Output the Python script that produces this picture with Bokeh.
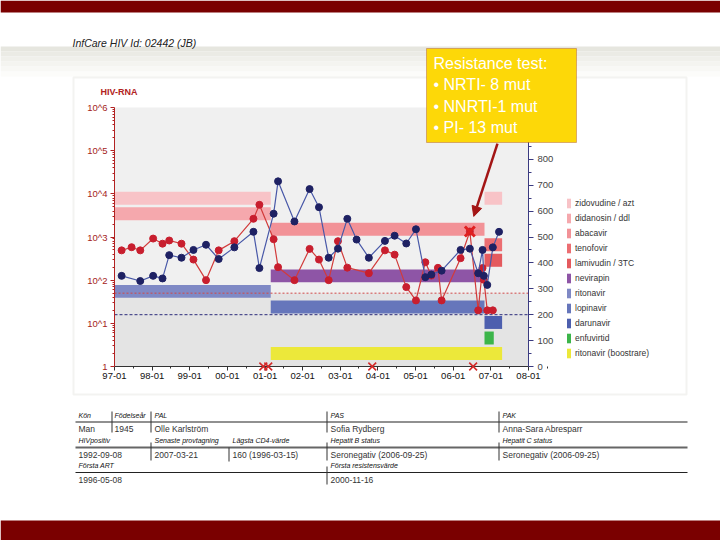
import pandas as pd
from bokeh.plotting import figure
from bokeh.models import (Range1d, LinearAxis, LogAxis, DatetimeAxis, FixedTicker, DatetimeTickFormatter,
                          CustomJSTickFormatter, BoxAnnotation, Label, Arrow, NormalHead, Legend,
                          LegendItem, ColumnDataSource, LinearScale, LogScale)
from bokeh.embed import file_html
from bokeh.resources import INLINE

# ---------------- data ----------------
rna_dates = ["1997-03-11", "1997-06-16", "1997-09-08", "1998-01-11", "1998-04-12", "1998-06-16",
             "1998-10-13", "1999-02-06", "1999-06-08", "1999-10-09", "2000-03-09", "2000-09-10",
             "2000-11-07", "2001-03-25", "2001-05-07", "2001-10-13", "2002-03-09", "2002-06-08",
             "2002-09-10", "2002-12-09", "2003-03-10", "2003-10-05", "2004-03-09", "2004-06-11",
             "2004-10-02", "2005-01-04", "2005-04-05", "2005-06-02", "2005-08-05", "2005-09-10",
             "2006-03-13", "2006-06-11", "2006-08-31", "2006-10-12", "2006-10-25", "2006-11-27",
             "2007-01-20"]
rna_values = [490, 580, 490, 920, 700, 830, 700, 300, 100, 490, 800, 2640, 5570, 890, 200, 100,
              530, 300, 100, 800, 195, 145, 490, 390, 69, 34, 260, 128, 193, 34, 323, 1340, 20,
              191, 102, 20, 20]

cd4_dates = ["1997-03-11", "1997-09-08", "1998-01-11", "1998-04-12", "1998-06-16", "1998-10-13",
             "1999-02-06", "1999-06-08", "1999-10-09", "2000-03-09", "2000-09-10", "2000-11-07",
             "2001-03-25", "2001-05-07", "2001-10-13", "2002-03-09", "2002-06-08", "2002-09-10",
             "2002-12-09", "2003-03-10", "2003-06-08", "2003-10-05", "2004-03-09", "2004-06-11",
             "2004-10-02", "2005-01-04", "2005-04-05", "2005-06-02", "2005-09-10", "2006-03-13",
             "2006-06-11", "2006-08-31", "2006-10-12", "2006-10-25", "2006-11-27", "2007-01-20",
             "2007-03-21"]
cd4_values = [350, 330, 350, 340, 430, 420, 450, 470, 415, 460, 520, 380, 590, 715, 560, 685, 615,
              420, 455, 570, 490, 420, 485, 505, 475, 530, 345, 355, 370, 450, 455, 360, 450, 350,
              315, 460, 520]

drug_names = ["zidovudine / azt", "didanosin / ddl", "abacavir", "tenofovir", "lamivudin / 3TC",
              "nevirapin", "ritonavir", "lopinavir", "darunavir", "enfuvirtid", "ritonavir (boostrare)"]
drug_colors = ["#f8c3c7", "#f5a8ad", "#f29297", "#ec6e72", "#e45a5e", "#8e55a6", "#7f89c5",
               "#6676bb", "#4d5fae", "#3cb54a", "#ece83a"]

therapy_drug = ["zidovudine / azt", "didanosin / ddl", "ritonavir",
                "abacavir", "nevirapin", "lopinavir", "ritonavir (boostrare)",
                "zidovudine / azt", "tenofovir", "lamivudin / 3TC", "darunavir", "enfuvirtid"]
therapy_start = ["1996-05-08", "1996-05-08", "1996-05-08",
                 "2001-02-25", "2001-02-25", "2001-02-25", "2001-02-25",
                 "2006-10-31", "2006-10-31", "2006-10-31", "2006-10-31", "2006-10-31"]
therapy_end = ["2001-02-25", "2001-02-25", "2001-02-25",
               "2006-10-31", "2006-10-31", "2006-10-31", "2007-04-20",
               "2007-04-20", "2007-04-20", "2007-04-20", "2007-04-20", "2007-01-29"]

resist_dates = ["2000-12-15", "2001-02-01", "2003-11-07", "2006-07-13"]
resist_point_date = "2006-06-11"
resist_point_value = 1340

rna_limit = 50
cd4_limit = 200

rna_ticks = [1, 10, 100, 1000, 10000, 100000, 1000000]
rna_tick_labels = ["1", "10^1", "10^2", "10^3", "10^4", "10^5", "10^6"]
cd4_ticks = [0, 100, 200, 300, 400, 500, 600, 700, 800, 900, 1000]
year_ticks = ["1997-01-01", "1998-01-01", "1999-01-01", "2000-01-01", "2001-01-01", "2002-01-01",
              "2003-01-01", "2004-01-01", "2005-01-01", "2006-01-01", "2007-01-01", "2008-01-01"]

callout_lines = ["Resistance test:", "\u2022 NRTI- 8 mut", "\u2022 NNRTI-1 mut", "\u2022 PI- 13 mut"]
arrow_from = ("2007-03-06", 146000)
arrow_to = ("2006-07-19", 3000)

header_text = "InfCare HIV Id: 02442 (JB)"
table_labels = ["Kön", "Födelseår", "PAL", "PAS", "PAK",
                "HIVpositiv", "Senaste provtagning", "Lägsta CD4-värde", "Hepatit B status", "Hepatit C status",
                "Första ART", "Första resistensvärde"]
table_values = ["Man", "1945", "Olle Karlström", "Sofia Rydberg", "Anna-Sara Abresparr",
                "1992-09-08", "2007-03-21", "160 (1996-03-15)", "Seronegativ (2006-09-25)",
                "Seronegativ (2006-09-25)", "1996-05-08", "2000-11-16"]

# ---------------- page geometry ----------------
FONT = "Liberation Sans"
W, H = 720, 540
CH_L, CH_R, CH_T, CH_B = 114, 528, 107, 366   # chart box on the page (px)


def ms(d):
    return pd.Timestamp(d).value / 1e6


t0, t1 = ms(year_ticks[0]), ms(year_ticks[-1])
mpp = (t1 - t0) / (CH_R - CH_L)
date_range = Range1d(t0 - CH_L * mpp, t1 + (W - CH_R) * mpp)
lpp = 6.0 / (CH_B - CH_T)
rna_range = Range1d(10 ** (-(H - CH_B) * lpp), 10 ** (6 + CH_T * lpp))
cpp = (cd4_ticks[-1] - cd4_ticks[0]) / (CH_B - CH_T)
cd4_range = Range1d(cd4_ticks[0] - (H - CH_B) * cpp, cd4_ticks[-1] + CH_T * cpp)

p = figure(width=W, height=H, x_range=Range1d(0, W), y_range=Range1d(H, 0), min_border=0,
           x_axis_location=None, y_axis_location=None,
           output_backend="svg", toolbar_location=None, tools="",
           background_fill_color="white", border_fill_color="white", outline_line_color=None)
p.grid.visible = False
p.extra_x_ranges = {"date": date_range}
p.extra_x_scales = {"date": LinearScale()}
p.extra_y_ranges = {"rna": rna_range, "cd4": cd4_range}
p.extra_y_scales = {"rna": LogScale(), "cd4": LinearScale()}


def box(x0, y0, x1, y1, color, level="underlay", line_color=None, line_width=1, fill_alpha=1.0):
    p.add_layout(BoxAnnotation(left=x0, right=x1, top=y0, bottom=y1, fill_color=color,
                               fill_alpha=fill_alpha, line_color=line_color, line_width=line_width,
                               level=level))


def text(px, py, t, size, color="#222222", style="normal", align="left", level="annotation"):
    p.add_layout(Label(x=px, y=py, text=t, text_font=FONT, text_font_size=size, text_color=color,
                       text_font_style=style, text_align=align, text_baseline="middle", level=level))


# ---------------- slide decoration ----------------
box(0, 0, W, 12, "#7a0000")
box(0, 520, W, H, "#7a0000")
grad = ["#e6e6df", "#ebebe5", "#f0f0eb", "#f4f4f0", "#f8f8f5", "#fcfcfa"]
for i, c in enumerate(grad):
    box(0, 46 + 5 * i, W, 51 + 5 * i, c, level="image")
box(73, 77, 686, 394, "white", level="underlay", line_color="#d8d7cf", line_width=2, fill_alpha=0)
text(72, 42, header_text, "10.5px", color="#222222", style="italic")
text(100, 91, "HIV-RNA", "9px", color="#b22222", style="bold")

# ---------------- chart background ----------------
p.add_layout(BoxAnnotation(left=t0, right=t1, bottom=rna_ticks[0], top=rna_ticks[-1],
                           x_range_name="date", y_range_name="rna",
                           fill_color="#f0f0f0", fill_alpha=1, line_color=None, level="image"))
p.add_layout(BoxAnnotation(left=t0, right=t1, bottom=rna_ticks[0], top=rna_limit,
                           x_range_name="date", y_range_name="rna",
                           fill_color="#e4e4e4", fill_alpha=1, line_color=None, level="image"))

# ---------------- therapy bars ----------------
lane_y = [650 - 60 * i for i in range(len(drug_names))]
items = []
for i, name in enumerate(drug_names):
    idx = [k for k, d in enumerate(therapy_drug) if d == name]
    src = ColumnDataSource(dict(
        y=[lane_y[i]] * len(idx),
        left=[max(ms(therapy_start[k]), t0) for k in idx],
        right=[ms(therapy_end[k]) for k in idx]))
    r = p.hbar(y="y", left="left", right="right", height=50, source=src,
               x_range_name="date", y_range_name="cd4",
               fill_color=drug_colors[i], line_color=None)
    r.level = "underlay"
    items.append(LegendItem(label=name, renderers=[r]))

r = p.segment(x0=[t0], x1=[t1], y0=[rna_limit], y1=[rna_limit], x_range_name="date",
              y_range_name="rna", line_color="#d04848", line_dash="2 2", line_width=1)
r.level = "underlay"
r = p.segment(x0=[t0], x1=[t1], y0=[cd4_limit], y1=[cd4_limit], x_range_name="date",
              y_range_name="cd4", line_color="#2a2a7a", line_dash="3 2", line_width=1)
r.level = "underlay"

# ---------------- series ----------------
rx = [ms(d) for d in rna_dates]
cx = [ms(d) for d in cd4_dates]
p.line(rx, rna_values, x_range_name="date", y_range_name="rna", line_color="#d23b3b", line_width=1.2)
p.scatter(rx, rna_values, x_range_name="date", y_range_name="rna", size=7,
          fill_color="#c81e2e", line_color="#c81e2e")
p.line(cx, cd4_values, x_range_name="date", y_range_name="cd4", line_color="#4858a8", line_width=1.2)
p.scatter(cx, cd4_values, x_range_name="date", y_range_name="cd4", size=7,
          fill_color="#1e2163", line_color="#1e2163")
p.scatter([ms(resist_point_date)], [resist_point_value], x_range_name="date", y_range_name="rna",
          marker="x", size=14, line_width=3, line_color="#e02020")
p.scatter([ms(d) for d in resist_dates], [rna_ticks[0]] * len(resist_dates), x_range_name="date",
          y_range_name="rna", marker="x", size=11, line_width=1.6, line_color="#d42a2a", level="overlay")

# ---------------- axes ----------------
la = LogAxis(x_range_name="date", y_range_name="rna", fixed_location=t0,
             bounds=(rna_ticks[0], rna_ticks[-1]),
             ticker=FixedTicker(ticks=rna_ticks,
                                minor_ticks=[k * 10 ** d for d in range(6) for k in range(2, 10)]),
             formatter=CustomJSTickFormatter(args=dict(tvals=rna_ticks, tlabs=rna_tick_labels), code="""
                 for (let i = 0; i < tvals.length; i++) {
                     if (Math.abs(Math.log10(tvals[i]) - Math.log10(tick)) < 1e-6) return tlabs[i];
                 }
                 return "";
             """))
ra = LinearAxis(x_range_name="date", y_range_name="cd4", fixed_location=t1,
                bounds=(cd4_ticks[0], cd4_ticks[-1]),
                ticker=FixedTicker(ticks=cd4_ticks, minor_ticks=[t + 50 for t in cd4_ticks[:-1]]))
fmt = "%y-%m"
xa = DatetimeAxis(x_range_name="date", y_range_name="rna", fixed_location=rna_ticks[0],
                  bounds=(t0, t1),
                  ticker=FixedTicker(ticks=[ms(d) for d in year_ticks],
                                     minor_ticks=[ms(d[:4] + "-07-01") for d in year_ticks]),
                  formatter=DatetimeTickFormatter(years=fmt, months=fmt, days=fmt, hours=fmt,
                                                  minutes=fmt, seconds=fmt, milliseconds=fmt,
                                                  microseconds=fmt))
for a, c, lc in ((la, "#b22222", "#a52222"), (ra, "#3a3a80", "#444444"), (xa, "#333333", "#111111")):
    a.axis_line_color = c
    a.major_tick_line_color = c
    a.minor_tick_line_color = c
    a.major_tick_out = 4
    a.major_tick_in = 0
    a.minor_tick_out = 2
    a.minor_tick_in = 0
    a.major_label_text_color = lc
    a.major_label_text_font = FONT
    a.major_label_text_font_size = "9.5px"
    a.major_label_standoff = 3
ra.major_tick_out = 5
ra.minor_tick_out = 3
ra.major_label_standoff = 4
xa.major_label_standoff = 2
p.add_layout(la, "left")
p.add_layout(ra, "right")
p.add_layout(xa, "below")

# ---------------- legend ----------------
legend = Legend(items=items, location=(566, H - 359), glyph_width=5, glyph_height=12,
                label_height=12, spacing=3, padding=0, margin=0, label_standoff=4,
                border_line_color=None, background_fill_alpha=0,
                label_text_font=FONT, label_text_font_size="8.5px", label_text_color="#333333")
p.add_layout(legend)

# ---------------- callout ----------------
box(426, 48, 576, 142, "#fdd808", level="overlay", line_color="#8b1a1a", line_width=1)
for i, t in enumerate(callout_lines):
    text(433, 63 + 21.3 * i, t, "16px", color="white", level="overlay")
p.add_layout(Arrow(end=NormalHead(size=10, fill_color="#a31515", line_color="#a31515"),
                   x_start=ms(arrow_from[0]), y_start=arrow_from[1],
                   x_end=ms(arrow_to[0]), y_end=arrow_to[1],
                   x_range_name="date", y_range_name="rna",
                   line_color="#a31515", line_width=2.5, level="overlay"))

# ---------------- patient table ----------------
cell_x = [78, 114, 154, 330, 502, 78, 154, 232, 330, 502, 78, 330]
cell_row = [0, 0, 0, 0, 0, 1, 1, 1, 1, 1, 2, 2]
row_label_y = [415, 440, 465]
row_value_y = [428, 454, 479]
for lab, val, x, rr in zip(table_labels, table_values, cell_x, cell_row):
    text(x, row_label_y[rr], lab, "7px", color="#111111", style="italic")
    text(x, row_value_y[rr], val, "8.5px", color="#333333")
box(75, 421, 687, 422, "#222222")
box(75, 446, 687, 448, "#666666")
box(75, 471.5, 687, 472.5, "#222222")
for x, y0, y1 in [(111, 411, 432), (150, 411, 432), (326, 411, 432), (498, 411, 432),
                  (150, 442, 460), (228, 447, 461), (326, 442, 460), (498, 442, 460),
                  (326, 466, 484)]:
    box(x, y0, x + 1, y1, "#333333")

open("out.html", "w").write(file_html(p, INLINE))
